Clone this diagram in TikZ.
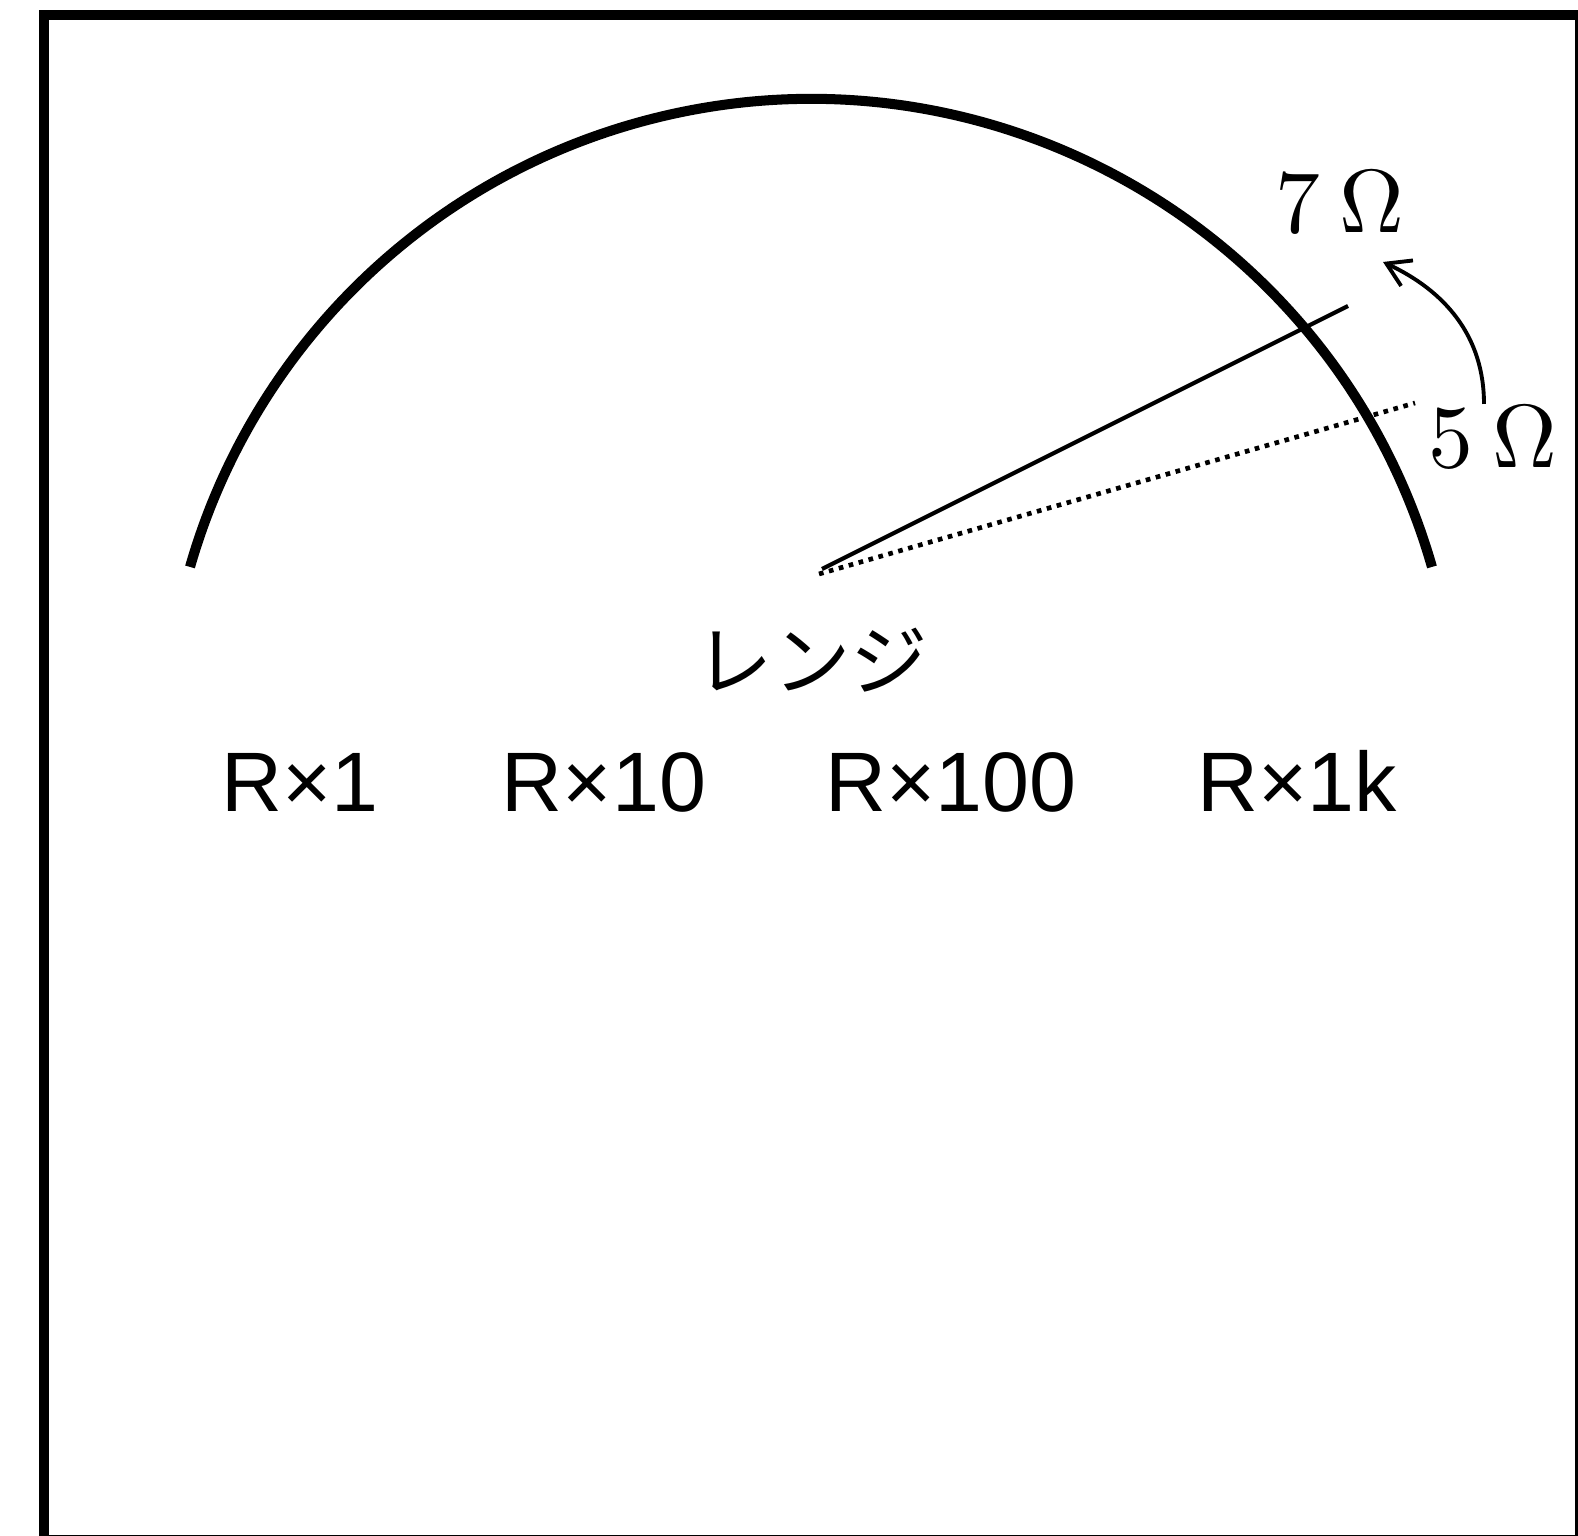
\documentclass[tikz,border=0pt]{standalone}
\usepackage{fontspec}
\newfontfamily\jpfont{Noto Sans CJK JP}
\newfontfamily\rangefont{Liberation Sans}
\usetikzlibrary{arrows.meta}
\tikzset{
	dialarc/.style={
			line width=2.85pt
		},
	needle/.style={
			line width=1.15pt
		},
	oldneedle/.style={
			line width=1.33pt,
			dash pattern=on 1.33pt off 1.6pt
		},
	ohmtext/.style={
			font=\normalsize,
			transform shape,
			scale=2.55,
			anchor=base,
			inner sep=0pt
		},
	rangetext/.style={
			font=\rangefont\fontsize{24}{28}\selectfont,
			anchor=base,
			inner sep=0pt
		},
	jptext/.style={
			font=\jpfont\fontsize{22}{28}\selectfont,
			inner sep=0pt
		}
}

\begin{document}
\begin{tikzpicture}[x=0.01cm, y=0.01cm]
\clip (0,0) rectangle (1578,1536);
\draw[line width=2.85pt] (44,1521) rectangle (1580,-4.5);

\coordinate (dialc) at (811,791);
\draw[dialarc] (dialc) ++(16:646) arc[start angle=16, end angle=164, radius=646];

\coordinate (pivot) at (822,967);
\coordinate (pivotold) at (819,962);
\coordinate (tipnew) at (1348,1230);
\coordinate (tipold) at (1415,1133);

\draw[needle] (pivot) -- (tipnew);
\draw[oldneedle] (pivotold) -- (tipold);

\node[ohmtext] (seven) at (1340,1303) {7\hspace{0.22em}$\Omega$};
\node[ohmtext] (five) at (1493,1068) {5\hspace{0.22em}$\Omega$};

\coordinate (swingstart) at (1484,1132);
\coordinate (swingend) at (1383,1274);
\draw[line width=1.1pt, -{Straight Barb[length=6.5pt, width=8pt]}]
  (swingstart) to[out=90, in=-25] (swingend);

\node[jptext] (range) at (812,876) {レンジ};

\node[rangetext] (r1) at (300,724) {R×1};
\node[rangetext] (r10) at (604,724) {R×10};
\node[rangetext] (r100) at (951,724) {R×100};
\node[rangetext] (r1k) at (1297,724) {R×1k};
\end{tikzpicture}
\end{document}
